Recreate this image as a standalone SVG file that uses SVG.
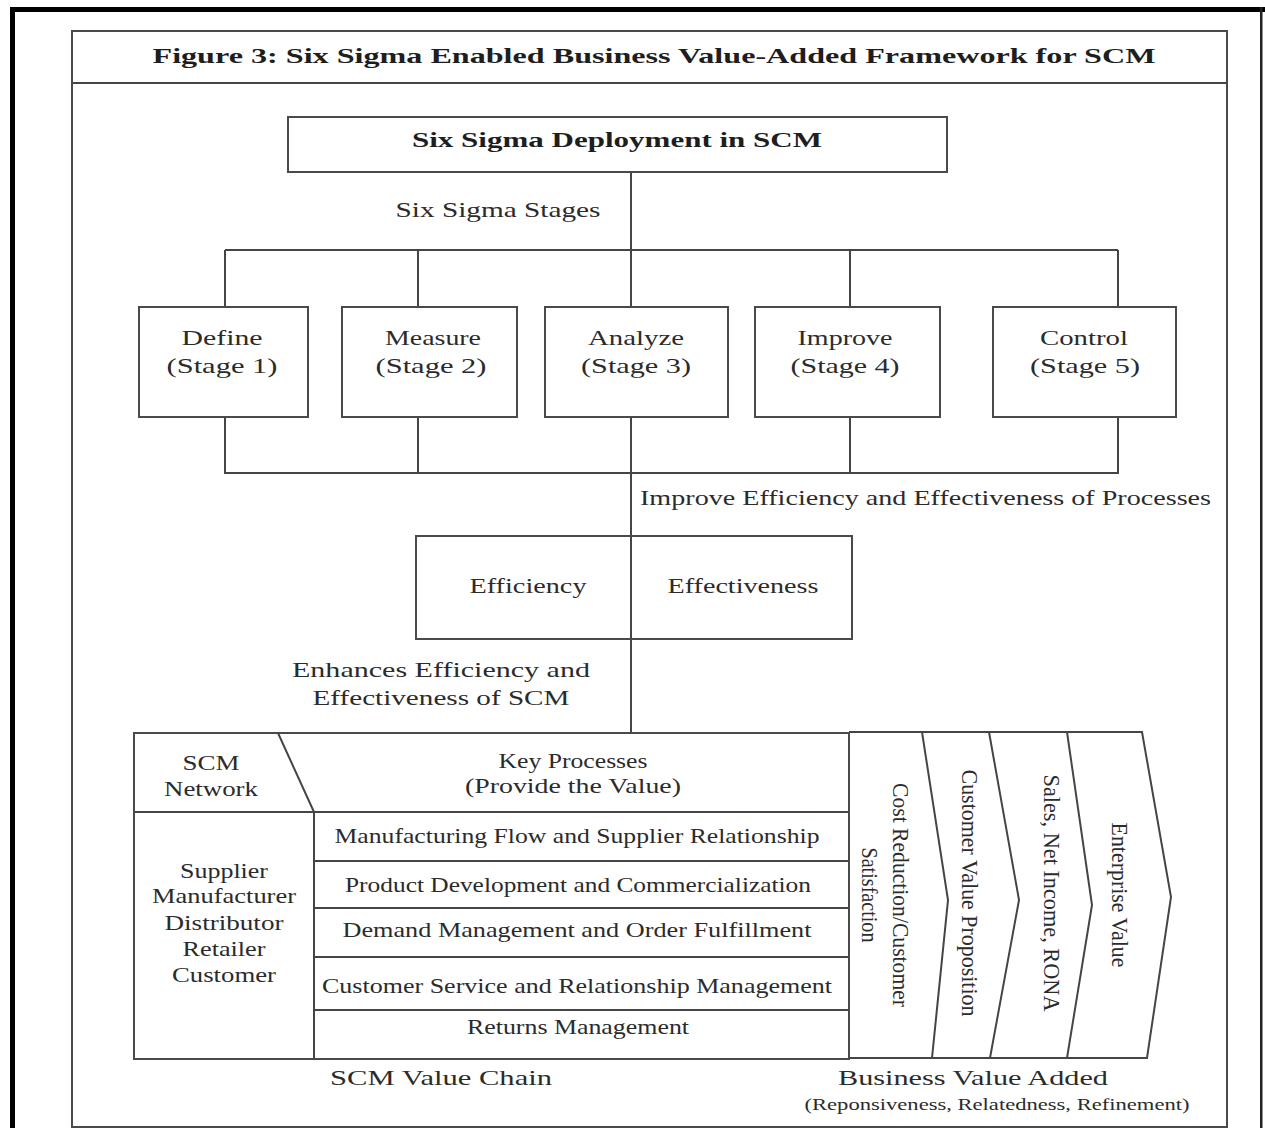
<svg xmlns="http://www.w3.org/2000/svg" width="1265" height="1128" viewBox="0 0 1265 1128">
<style>
  .t { font-family: "Liberation Serif", "DejaVu Serif", serif; fill: #2b2b2b; font-size: 22px; text-anchor: middle; }
  .b { font-weight: bold; fill: #1e1e1e; }
  .s { font-size: 21px; }
  .r { font-size: 23px; }
  .sm { font-size: 17px; }
  .box { fill: #ffffff; stroke: #4a4a4a; stroke-width: 2; }
  .ln { fill: none; stroke: #454545; stroke-width: 2; }
</style>
<rect x="0" y="0" width="1265" height="1128" fill="#ffffff"/>
<g id="frame">
  <rect x="10" y="7" width="1255" height="5" fill="#000"/>
  <rect x="10" y="7" width="5" height="1121" fill="#000"/>
  <rect x="1260" y="7" width="2.5" height="1121" fill="#222"/>
  <rect x="72" y="31" width="1155" height="1096" class="box"/>
  <line x1="72" y1="83" x2="1227" y2="83" class="ln"/>
</g>
<g id="title">
  <text class="t b" x="654" y="63" font-size="27" textLength="1003" lengthAdjust="spacingAndGlyphs">Figure 3: Six Sigma Enabled Business Value-Added Framework for SCM</text>
</g>
<g id="connectors">
  <path class="ln" d="M631,172 V307 M225,250 H1118 M225,250 V307 M418,250 V307 M850,250 V307 M1118,250 V307"/>
  <path class="ln" d="M225,417 V473 H1118 V417 M418,417 V473 M850,417 V473 M631,417 V733"/>
</g>
<g id="deploy">
  <rect x="288" y="117" width="659" height="55" class="box"/>
  <text class="t b" x="617" y="147" font-size="23" textLength="410" lengthAdjust="spacingAndGlyphs">Six Sigma Deployment in SCM</text>
</g>
<g id="stages-label">
  <text class="t" x="498" y="217" textLength="205" lengthAdjust="spacingAndGlyphs">Six Sigma Stages</text>
</g>
<g id="define">
  <rect x="139" y="307" width="169" height="110" class="box"/>
  <text class="t" x="222" y="345" textLength="81" lengthAdjust="spacingAndGlyphs">Define</text>
  <text class="t" x="222" y="373" textLength="111" lengthAdjust="spacingAndGlyphs">(Stage 1)</text>
</g>
<g id="measure">
  <rect x="342" y="307" width="175" height="110" class="box"/>
  <text class="t" x="433" y="345" textLength="96" lengthAdjust="spacingAndGlyphs">Measure</text>
  <text class="t" x="431" y="373" textLength="111" lengthAdjust="spacingAndGlyphs">(Stage 2)</text>
</g>
<g id="analyze">
  <rect x="545" y="307" width="183" height="110" class="box"/>
  <text class="t" x="636" y="345" textLength="96" lengthAdjust="spacingAndGlyphs">Analyze</text>
  <text class="t" x="636" y="373" textLength="110" lengthAdjust="spacingAndGlyphs">(Stage 3)</text>
</g>
<g id="improve">
  <rect x="755" y="307" width="185" height="110" class="box"/>
  <text class="t" x="845" y="345" textLength="95" lengthAdjust="spacingAndGlyphs">Improve</text>
  <text class="t" x="845" y="373" textLength="109" lengthAdjust="spacingAndGlyphs">(Stage 4)</text>
</g>
<g id="control">
  <rect x="993" y="307" width="183" height="110" class="box"/>
  <text class="t" x="1084" y="345" textLength="88" lengthAdjust="spacingAndGlyphs">Control</text>
  <text class="t" x="1085" y="373" textLength="110" lengthAdjust="spacingAndGlyphs">(Stage 5)</text>
</g>
<g id="improve-label">
  <text class="t" x="640" y="505" style="text-anchor:start" textLength="571" lengthAdjust="spacingAndGlyphs">Improve Efficiency and Effectiveness of Processes</text>
</g>
<g id="efficiency-box">
  <rect x="416" y="536" width="436" height="103" class="box"/>
  <line x1="631" y1="536" x2="631" y2="639" class="ln"/>
  <text class="t" x="528" y="593" textLength="117" lengthAdjust="spacingAndGlyphs">Efficiency</text>
  <text class="t" x="743" y="593" textLength="151" lengthAdjust="spacingAndGlyphs">Effectiveness</text>
</g>
<g id="enhances-label">
  <text class="t" x="441" y="677" textLength="298" lengthAdjust="spacingAndGlyphs">Enhances Efficiency and</text>
  <text class="t" x="441" y="705" textLength="257" lengthAdjust="spacingAndGlyphs">Effectiveness of SCM</text>
</g>
<g id="value-chain-table">
  <rect x="134" y="733" width="715" height="326" class="box"/>
  <path class="ln" d="M134,812 H849 M278,733 L314,812 V1059 M314,861 H849 M314,908 H849 M314,957 H849 M314,1010 H849"/>
  <text class="t" x="211" y="770" textLength="57" lengthAdjust="spacingAndGlyphs">SCM</text>
  <text class="t" x="211" y="796" textLength="94" lengthAdjust="spacingAndGlyphs">Network</text>
  <text class="t" x="573" y="768" textLength="149" lengthAdjust="spacingAndGlyphs">Key Processes</text>
  <text class="t" x="573" y="793" textLength="216" lengthAdjust="spacingAndGlyphs">(Provide the Value)</text>
  <text class="t" x="224" y="878" textLength="88" lengthAdjust="spacingAndGlyphs">Supplier</text>
  <text class="t" x="224" y="903" textLength="144" lengthAdjust="spacingAndGlyphs">Manufacturer</text>
  <text class="t" x="224" y="930" textLength="119" lengthAdjust="spacingAndGlyphs">Distributor</text>
  <text class="t" x="224" y="956" textLength="83" lengthAdjust="spacingAndGlyphs">Retailer</text>
  <text class="t" x="224" y="982" textLength="104" lengthAdjust="spacingAndGlyphs">Customer</text>
  <text class="t s" x="577" y="843" textLength="485" lengthAdjust="spacingAndGlyphs">Manufacturing Flow and Supplier Relationship</text>
  <text class="t s" x="578" y="892" textLength="466" lengthAdjust="spacingAndGlyphs">Product Development and Commercialization</text>
  <text class="t s" x="577" y="937" textLength="469" lengthAdjust="spacingAndGlyphs">Demand Management and Order Fulfillment</text>
  <text class="t s" x="577" y="993" textLength="510" lengthAdjust="spacingAndGlyphs">Customer Service and Relationship Management</text>
  <text class="t s" x="578" y="1034" textLength="222" lengthAdjust="spacingAndGlyphs">Returns Management</text>
</g>
<g id="business-value-chevrons">
  <path class="ln" d="M849,732 H1142 L1171,897 L1147,1058 H849"/>
  <path class="ln" d="M922,732 L948,900 L932,1058"/>
  <path class="ln" d="M989,732 L1019,900 L990,1058"/>
  <path class="ln" d="M1067,732 L1092,905 L1067,1058"/>
  <text class="t r" transform="translate(901,895) rotate(90)" dy="0.35em" textLength="224" lengthAdjust="spacingAndGlyphs">Cost Reduction/Customer</text>
  <text class="t r" transform="translate(870,895) rotate(90)" dy="0.35em" textLength="95" lengthAdjust="spacingAndGlyphs">Satisfaction</text>
  <text class="t r" transform="translate(970,893) rotate(90)" dy="0.35em" textLength="247" lengthAdjust="spacingAndGlyphs">Customer Value Proposition</text>
  <text class="t r" transform="translate(1052,893) rotate(90)" dy="0.35em" textLength="237" lengthAdjust="spacingAndGlyphs">Sales, Net Income, RONA</text>
  <text class="t r" transform="translate(1120,895) rotate(90)" dy="0.35em" textLength="145" lengthAdjust="spacingAndGlyphs">Enterprise Value</text>
</g>
<g id="bottom-labels">
  <text class="t" x="441" y="1085" textLength="222" lengthAdjust="spacingAndGlyphs">SCM Value Chain</text>
  <text class="t" x="973" y="1085" textLength="270" lengthAdjust="spacingAndGlyphs">Business Value Added</text>
  <text class="t sm" x="997" y="1110" textLength="385" lengthAdjust="spacingAndGlyphs">(Reponsiveness, Relatedness, Refinement)</text>
</g>
</svg>
